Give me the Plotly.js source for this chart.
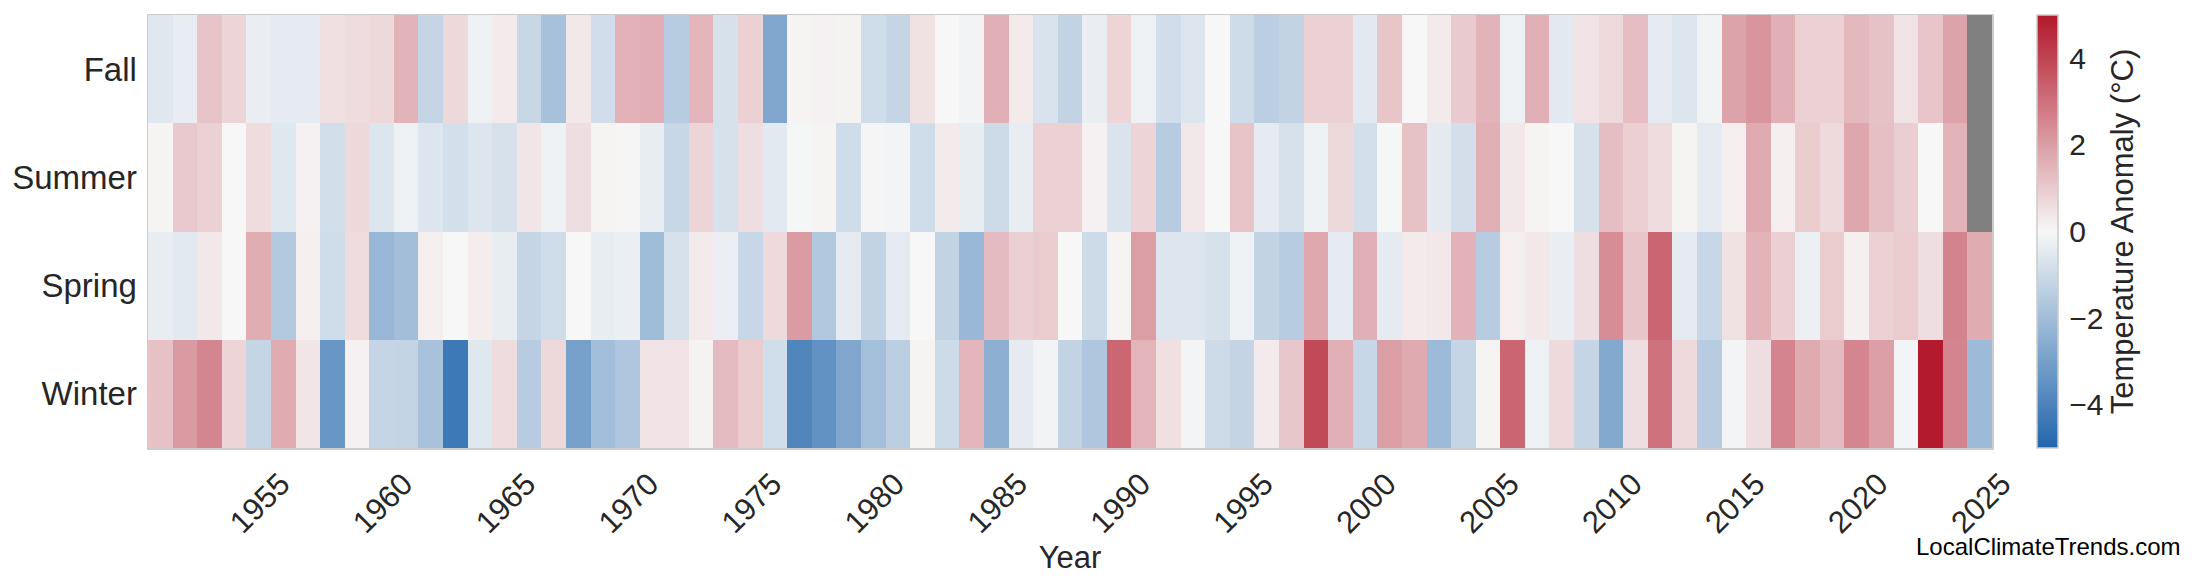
<!DOCTYPE html>
<html>
<head>
<meta charset="utf-8">
<script src="https://cdn.plot.ly/plotly-3.0.1.min.js"></script>
<style>html,body{margin:0;padding:0;background:#fff;}#chart{width:2200px;height:585px;}</style>
</head>
<body>
<div id="chart"></div>
<script>
// Years 1951-2025
const years = [];
for (let y = 1951; y <= 2025; y++) years.push(y);

const seasons = ['Winter', 'Spring', 'Summer', 'Fall'];

const fall = [-0.54,-0.35,1.14,0.78,-0.3,-0.4,-0.4,0.52,0.6,0.7,
  1.5,-1.17,0.7,-0.2,0.3,-1.12,-1.87,0.33,-0.89,1.55,
  1.64,-1.47,1.48,-0.75,0.87,-2.78,0.1,0.15,0.12,-0.93,
  -1.17,0.5,0.0,-0.15,1.6,0.3,-0.7,-1.24,-0.3,0.78,
  -0.2,-0.89,-0.6,0.0,-0.95,-1.38,-1.24,0.85,0.85,-0.5,
  1.12,0.0,0.3,1.0,1.52,-0.2,1.6,-0.5,0.45,0.65,
  1.3,-0.42,-0.6,-0.15,1.88,2.2,1.6,0.85,0.85,1.4,
  1.2,0.45,1.12,1.88,null];

const summer = [0.1,1.03,0.87,0.0,0.6,-0.55,0.15,-0.86,0.7,-0.6,
  -0.2,-0.6,-0.83,-0.6,-0.77,0.4,-0.2,0.55,0.1,0.05,
  -0.35,-1.12,0.78,-0.75,0.55,-0.5,-0.05,0.1,-0.93,0.05,
  -0.1,-0.93,0.3,-0.35,-0.98,-0.35,0.85,0.85,0.15,-0.65,
  0.78,-1.5,0.35,0.0,1.15,-0.4,-0.75,-0.2,0.7,-0.83,
  -0.05,1.2,-0.45,-0.85,1.6,0.35,0.1,0.0,-0.75,1.27,
  0.9,0.6,0.1,-0.4,0.2,1.73,0.2,0.97,0.65,1.8,
  1.25,0.93,0.0,1.52,null];

const spring = [-0.35,-0.5,0.35,0.0,1.66,-1.59,0.2,-0.93,0.6,-2.22,
  -1.98,0.2,0.0,0.25,-0.35,-1.17,-0.93,0.0,-0.35,-0.28,
  -2.05,-0.75,0.3,-0.28,-1.1,0.65,2.06,-1.66,-0.4,-1.24,
  -0.4,0.0,-1.24,-2.2,1.35,0.88,0.97,0.0,-0.98,0.1,
  2.0,-0.6,-0.6,-0.75,-0.2,-1.24,-1.5,1.77,-0.4,1.6,
  -0.4,0.3,0.33,1.55,-1.5,0.2,0.35,-0.3,0.55,2.38,
  1.12,3.27,-0.4,-1.1,0.5,1.52,0.9,-0.25,0.97,0.18,
  0.85,0.97,0.55,2.6,1.68];

const winter = [1.21,2.08,2.53,0.78,-1.17,1.68,0.4,-3.34,0.15,-1.17,
  -1.22,-1.82,-4.35,-0.55,0.6,-1.5,0.7,-3.0,-1.96,-1.68,
  0.45,0.45,0.12,1.35,0.97,-0.9,-3.88,-3.5,-2.78,-1.94,
  -1.38,0.1,-0.98,1.48,-2.52,-0.4,-0.15,-1.24,-1.68,3.23,
  1.48,0.52,-0.1,-0.98,-1.2,0.3,1.08,3.88,1.6,-1.1,
  2.0,1.73,-2.1,-1.17,0.1,3.27,-0.2,0.65,-1.17,-2.69,
  0.55,2.96,0.65,-1.47,-0.1,0.55,2.58,1.73,1.35,2.55,
  1.97,-0.1,4.95,2.58,-2.1];

const yearTicks = [1955,1960,1965,1970,1975,1980,1985,1990,1995,2000,2005,2010,2015,2020,2025];
const yearTickLabels = yearTicks.map(String);
const cbTicks = [-4,-2,0,2,4];
const cbTickLabels = ['\u22124','\u22122','0','2','4'];

const FONT = 'Liberation Sans, Arial, Helvetica, sans-serif';
const TXT = '#262626';

const trace = {
  type: 'heatmap',
  x: years,
  y: seasons,
  z: [winter, spring, summer, fall],
  zmin: -5, zmax: 5,
  colorscale: [[0, '#2166ac'], [0.5, '#f7f7f7'], [1, '#b2182b']],
  hoverongaps: false,
  xgap: 0, ygap: 0,
  colorbar: {
    thickness: 21, thicknessmode: 'pixels',
    len: 1, lenmode: 'fraction',
    x: 1.0246, xanchor: 'left',
    y: 0.5, yanchor: 'middle',
    xpad: 0, ypad: 0,
    outlinewidth: 1.5, outlinecolor: '#cccccc',
    tickmode: 'array', tickvals: cbTicks, ticktext: cbTickLabels,
    ticks: 'outside', ticklen: 5, tickcolor: 'rgba(0,0,0,0)',
    tickfont: {family: FONT, size: 30, color: TXT},
    title: {text: 'Temperature Anomaly (°C)', side: 'right', font: {family: FONT, size: 31, color: TXT}}
  }
};

const layout = {
  width: 2200, height: 585,
  margin: {l: 147.7, r: 208.3, t: 15, b: 137, pad: 0},
  paper_bgcolor: '#ffffff',
  plot_bgcolor: '#808080',
  font: {family: FONT, color: TXT, size: 31},
  xaxis: {
    range: [1950.5, 2025.5],
    tickmode: 'array', tickvals: yearTicks, ticktext: yearTickLabels,
    tickangle: -45, ticks: '', ticklabelshift: 22, ticklabelstandoff: 4,
    tickfont: {family: FONT, size: 31, color: TXT},
    showgrid: false, zeroline: false,
    showline: true, mirror: true, linecolor: '#cccccc', linewidth: 1.5,
    title: {text: 'Year', font: {family: FONT, size: 31, color: TXT}, standoff: 0}
  },
  yaxis: {
    type: 'category',
    categoryorder: 'array', categoryarray: seasons,
    ticks: '', ticklabelstandoff: 3,
    tickfont: {family: FONT, size: 33, color: TXT},
    showgrid: false, zeroline: false,
    showline: true, mirror: true, linecolor: '#cccccc', linewidth: 1.5
  },
  annotations: [{
    text: 'LocalClimateTrends.com',
    xref: 'paper', yref: 'paper',
    x: 1.1037, xanchor: 'right',
    y: -0.2286, yanchor: 'middle',
    showarrow: false,
    font: {family: FONT, size: 24, color: '#000000'}
  }]
};

Plotly.newPlot('chart', [trace], layout, {staticPlot: true, displayModeBar: false});
</script>
</body>
</html>
